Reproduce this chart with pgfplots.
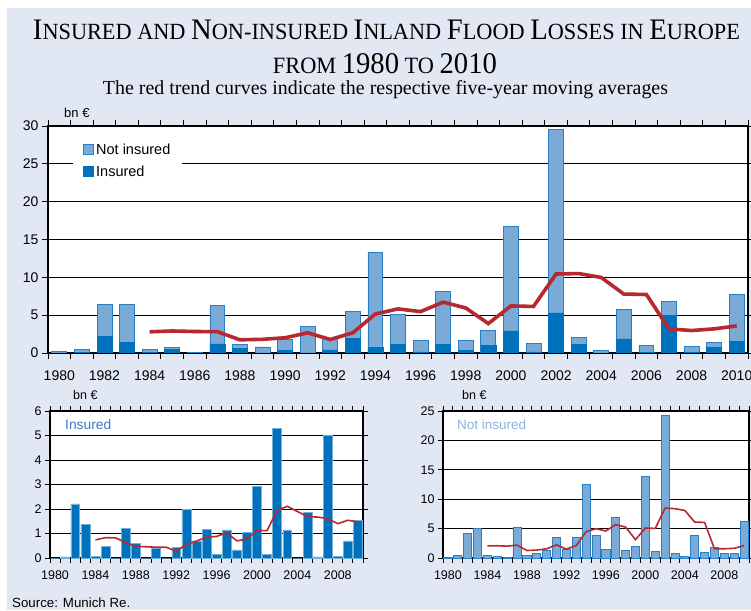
\documentclass[border=0pt]{standalone}
\usepackage{pgfplots}
\pgfplotsset{compat=1.18}
\usepackage{pgfplotstable}
\usepackage{fontspec}
\setmainfont{Liberation Sans}
\newfontfamily\serif{Liberation Serif}
\definecolor{bg}{HTML}{E1E8F4}
\definecolor{darkb}{HTML}{0071BC}
\definecolor{lightb}{HTML}{7AABD6}
\definecolor{edgeb}{HTML}{2A7EC4}
\definecolor{redl}{HTML}{B8282F}
\definecolor{instext}{HTML}{3C78C4}
\definecolor{notinstext}{HTML}{8FB0E0}
\newcommand{\bigc}[1]{{\fontsize{27}{27}\selectfont #1}}
\newcommand{\smc}[1]{{\fontsize{21}{21}\selectfont #1}}

\pgfplotstableread{
year ins notins total
1980 0    0.17  0.17
1981 0.05 0.40  0.45
1982 2.21 4.24  6.45
1983 1.37 5.09  6.46
1984 0.08 0.40  0.48
1985 0.46 0.28  0.74
1986 0    0.10  0.10
1987 1.22 5.12  6.34
1988 0.61 0.50  1.11
1989 0    0.80  0.80
1990 0.38 1.36  1.74
1991 0    3.45  3.45
1992 0.42 1.47  1.89
1993 1.97 3.56  5.53
1994 0.70 12.56 13.26
1995 1.17 3.90  5.07
1996 0.14 1.47  1.61
1997 1.15 6.96  8.11
1998 0.33 1.36  1.69
1999 1.04 1.92  2.96
2000 2.92 13.80 16.72
2001 0.16 1.13  1.29
2002 5.29 24.26 29.55
2003 1.15 0.85  2.00
2004 0    0.34  0.34
2005 1.86 3.90  5.76
2006 0.05 0.96  1.01
2007 4.99 1.87  6.86
2008 0.08 0.80  0.88
2009 0.70 0.74  1.44
2010 1.53 6.17  7.70
}\bars

\pgfplotstableread{
year mai man mat
1984 0.74 2.06 2.80
1985 0.83 2.08 2.91
1986 0.82 2.02 2.84
1987 0.63 2.19 2.82
1988 0.47 1.27 1.74
1989 0.46 1.35 1.81
1990 0.44 1.57 2.01
1991 0.44 2.23 2.67
1992 0.28 1.51 1.79
1993 0.55 2.12 2.67
1994 0.69 4.47 5.16
1995 0.85 4.98 5.83
1996 0.88 4.59 5.47
1997 1.03 5.69 6.72
1998 0.70 5.25 5.95
1999 0.77 3.12 3.89
2000 1.12 5.10 6.22
2001 1.12 5.03 6.15
2002 1.95 8.49 10.44
2003 2.11 8.39 10.50
2004 1.90 8.08 9.98
2005 1.69 6.10 7.79
2006 1.67 6.06 7.73
2007 1.61 1.58 3.19
2008 1.40 1.57 2.97
2009 1.54 1.65 3.19
2010 1.47 2.11 3.58
}\ma

\pgfplotsset{
  floodaxis/.style={
    scale only axis,
    anchor=south west,
    xmin=1979.5, xmax=2010.5, ymin=0,
    ybar, bar shift=0pt,
    axis background/.style={fill=white},
    ymajorgrids, grid style={black, line width=1pt},
    axis line style={black, line width=1.2pt},
    tick align=outside,
    major x tick style={draw=none},
    tick style={black, line width=0.9pt},
    minor xtick={1979.5,1980.5,...,2010.5},
    /pgf/number format/1000 sep={},
    /pgf/number format/assume math mode=true,
  }
}

\begin{document}
\begin{tikzpicture}[x=1pt,y=1pt]
\useasboundingbox (0,0) rectangle (751,610);
\fill[white] (0,0) rectangle (751,610);
\fill[bg] (7,0) rectangle (751,602);

% titles
\node[anchor=base, inner sep=0] at (386.5,570) {\resizebox{707pt}{19.5pt}{\serif
 \bigc{I}\smc{NSURED AND }\bigc{N}\smc{ON-INSURED }\bigc{I}\smc{NLAND }\bigc{F}\smc{LOOD }\bigc{L}\smc{OSSES IN }\bigc{E}\smc{UROPE}}};
\node[anchor=base, inner sep=0] at (385,536.5) {\resizebox{224pt}{20pt}{\serif
 \smc{FROM }\bigc{1980}\smc{ TO }\bigc{2010}}};
\node[anchor=base, inner sep=0] at (385.5,515) {\resizebox{565pt}{!}{\serif\fontsize{20}{20}\selectfont The red trend curves indicate the respective five-year moving averages}};

% main chart
\begin{axis}[floodaxis,
  at={(48pt,257pt)}, width=700pt, height=227pt,
  ymax=30, ytick={0,5,...,30},
  xtick={1980,1982,...,2010},
  bar width=0.66,
  major tick length=6pt, minor tick length=6pt,
  ticklabel style={font=\fontsize{14}{14}\selectfont},
  xticklabel style={yshift=-8pt},
  legend style={at={(0.036,0.945)}, anchor=north west, draw=none, fill=white,
    font=\fontsize{14.5}{16}\selectfont, inner xsep=10pt, inner ysep=3pt, row sep=6pt},
  legend cell align=left,
  legend image code/.code={\draw[#1, line width=0.8pt] (0pt,-5pt) rectangle (10pt,5pt);},
]
\addplot[fill=lightb, draw=edgeb, line width=0.8pt] table[x=year,y=total]{\bars};
\addlegendentry{Not insured\hspace{10pt}}
\addplot[fill=darkb, draw=darkb, line width=0.5pt] table[x=year,y=ins]{\bars};
\addlegendentry{Insured}
\addplot[sharp plot, redl, line width=3.6pt, forget plot] table[x=year,y=mat]{\ma};
\end{axis}
\node[anchor=base west, inner sep=0, font=\fontsize{13}{13}\selectfont] at (64,492) {bn €};

% bottom left: insured
\begin{axis}[floodaxis,
  at={(50pt,52pt)}, width=313pt, height=147pt,
  ymax=6, ytick={0,1,...,6},
  xtick={1980,1984,...,2008},
  bar width=0.88,
  major tick length=5pt, minor tick length=5pt,
  ticklabel style={font=\fontsize{12.5}{12.5}\selectfont},
  xticklabel style={yshift=-4pt},
]
\addplot[fill=darkb, draw=darkb!55!white, line width=0.5pt] table[x=year,y=ins]{\bars};
\addplot[sharp plot, redl, line width=1.6pt] table[x=year,y=mai]{\ma};
\end{axis}
\node[anchor=base west, inner sep=0, font=\fontsize{12.5}{12.5}\selectfont] at (73,210) {bn €};
\node[anchor=west, inner sep=0, text=instext, font=\fontsize{13.8}{14}\selectfont] at (65,185) {Insured};

% bottom right: not insured
\begin{axis}[floodaxis,
  at={(443pt,52pt)}, width=306pt, height=147pt,
  ymax=25, ytick={0,5,...,25},
  xtick={1980,1984,...,2008},
  bar width=0.82,
  major tick length=5pt, minor tick length=5pt,
  ticklabel style={font=\fontsize{12.5}{12.5}\selectfont},
  xticklabel style={yshift=-4pt},
]
\addplot[fill=lightb, draw=edgeb, line width=0.8pt] table[x=year,y=notins]{\bars};
\addplot[sharp plot, redl, line width=1.6pt] table[x=year,y=man]{\ma};
\end{axis}
\node[anchor=base west, inner sep=0, font=\fontsize{12.5}{12.5}\selectfont] at (462,210) {bn €};
\node[anchor=west, inner sep=0, text=notinstext, font=\fontsize{13.5}{14}\selectfont] at (457,185) {Not insured};

% source
\node[anchor=base west, inner sep=0, font=\fontsize{13.3}{13}\selectfont] at (12,3) {Source: Munich Re.};
\end{tikzpicture}
\end{document}
